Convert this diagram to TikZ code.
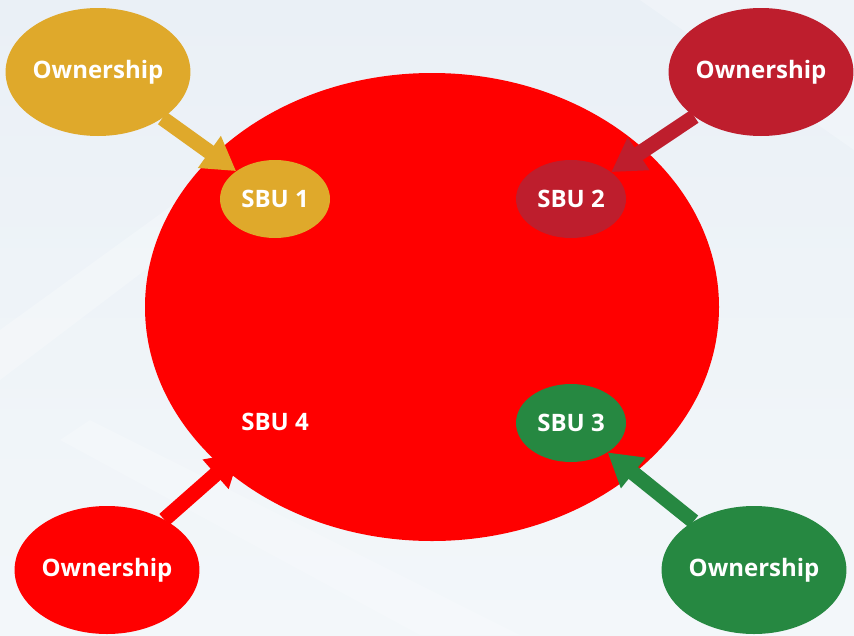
\documentclass[tikz,border=0pt]{standalone}
\usepackage{fontspec}
\setmainfont{Open Sans}
\usetikzlibrary{shapes.geometric,arrows.meta}
\definecolor{gold}{HTML}{DFA92B}
\definecolor{crimson}{HTML}{BE1E2D}
\definecolor{leaf}{HTML}{268841}
\definecolor{bgtop}{HTML}{EAF0F6}
\definecolor{bgbot}{HTML}{F3F7FA}

\begin{document}
\begin{tikzpicture}[
  x=1pt,y=-1pt,
  blob/.style={ellipse,fill=#1,text=white,inner sep=0pt,
    font=\bfseries\fontsize{24}{28}\selectfont},
  own/.style={blob=#1,minimum width=184pt,minimum height=128pt},
  sbu/.style={blob=#1,minimum width=110pt,minimum height=78pt},
  link/.style={draw=#1,line width=15pt,-{Triangle[width=37pt,length=33pt]}}
  ]
\def\W{854}
\def\H{635}
\useasboundingbox (0,0) rectangle (\W,\H);
\shade[top color=bgtop,bottom color=bgbot] (0,0) rectangle (\W,\H);
\fill[white,opacity=0.25] (0,330) -- (290,120) -- (330,130) -- (0,380) -- cycle;
\fill[white,opacity=0.25] (640,0) -- (854,0) -- (854,150) -- cycle;
\fill[white,opacity=0.2] (90,420) -- (520,635) -- (420,635) -- (60,440) -- cycle;
\node[ellipse,fill=red,minimum width=574pt,minimum height=468pt] (core) at (432,307) {};
\node[sbu=gold] (sbu1) at (275,199) {SBU 1};
\node[sbu=crimson] (sbu2) at (571,199) {SBU 2};
\node[sbu=leaf] (sbu3) at (571,423) {SBU 3};
\node[sbu=red] (sbu4) at (275,422) {SBU 4};
\node[own=gold] (own1) at (98,72) {Ownership};
\node[own=crimson] (own2) at (761,72) {Ownership};
\node[own=leaf] (own3) at (754,570) {Ownership};
\node[own=red] (own4) at (107,570) {Ownership};
\draw[link=gold] (own1) -- (sbu1);
\draw[link=crimson] (own2) -- (sbu2);
\draw[link=leaf] (own3) -- (sbu3);
\draw[link=red] (own4) -- (sbu4);
\end{tikzpicture}
\end{document}
